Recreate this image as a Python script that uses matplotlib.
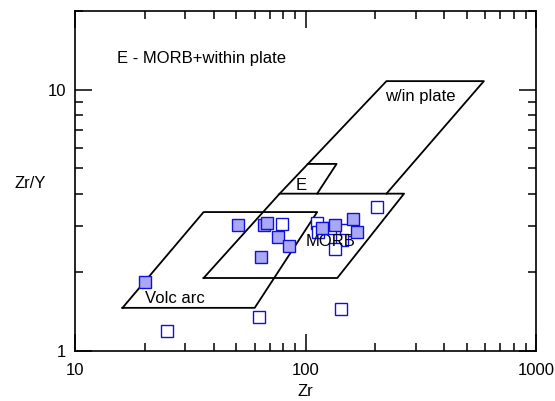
import matplotlib
matplotlib.use("Agg")
import matplotlib.pyplot as plt
from matplotlib.ticker import LogLocator, NullFormatter, FixedLocator, FixedFormatter

plt.rcParams['font.family'] = ['Liberation Sans', 'DejaVu Sans']

# discrimination field outlines (Zr, Zr/Y)
volc_arc_zr = [16, 36, 112, 60, 16]
volc_arc_zry = [1.46, 3.4, 3.4, 1.46, 1.46]
morb_zr = [36, 77, 267, 137, 36]
morb_zry = [1.9, 4.0, 4.0, 1.9, 1.9]
wip_zr = [77, 224, 593, 224]
wip_zry = [4.0, 10.8, 10.8, 4.0]
emorb_zr = [102, 136, 112]
emorb_zry = [5.2, 5.2, 4.0]

# samples
filled_zr = [20.0, 50.9, 65.8, 68.0, 75.9, 84.7, 63.8, 117.8, 134.2, 159.7, 167.2]
filled_zry = [1.83, 3.02, 3.02, 3.10, 2.72, 2.51, 2.29, 2.95, 3.02, 3.20, 2.86]
open_zr = [79.0, 112.3, 112.9, 127.2, 150.0, 143.0, 133.8, 203.0, 141.6, 62.8, 24.9]
open_zry = [3.05, 3.08, 2.86, 2.95, 2.89, 2.66, 2.45, 3.57, 1.45, 1.35, 1.19]

xticks = [10, 100, 1000]
xticklabels = ['10', '100', '1000']
yticks = [1, 10]
yticklabels = ['1', '10']

fig = plt.figure(figsize=(5.55, 4.01), dpi=100)
ax = fig.add_axes([0.136, 0.1254, 0.830, 0.8464])
ax.set_xscale('log')
ax.set_yscale('log')
ax.set_xlim(10, 1000)
ax.set_ylim(1, 20)

for xs, ys in [(volc_arc_zr, volc_arc_zry), (morb_zr, morb_zry),
               (wip_zr, wip_zry), (emorb_zr, emorb_zry)]:
    ax.plot(xs, ys, color='black', lw=1.3, zorder=2)

ax.plot(open_zr, open_zry, 's', ms=8, mfc='white', mec='#1010dd', mew=1.0,
        ls='none', zorder=3)
ax.plot(filled_zr, filled_zry, 's', ms=8, mfc='#a8a8f4', mec='#1010dd', mew=1.0,
        ls='none', zorder=4)

ax.text(0.090, 0.849, 'E - MORB+within plate', transform=ax.transAxes,
        fontsize=12, va='baseline', ha='left')
ax.text(220, 9.4, 'w/in plate', fontsize=12, va='center', ha='left')
ax.text(90, 4.3, 'E', fontsize=12, va='center', ha='left')
ax.text(100, 2.62, 'MORB', fontsize=12, va='center', ha='left')
ax.text(20.0, 1.58, 'Volc arc', fontsize=12, va='center', ha='left')

ax.xaxis.set_major_locator(FixedLocator(xticks))
ax.xaxis.set_major_formatter(FixedFormatter(xticklabels))
ax.yaxis.set_major_locator(FixedLocator(yticks))
ax.yaxis.set_major_formatter(FixedFormatter(yticklabels))
ax.xaxis.set_minor_locator(LogLocator(base=10, subs=range(2, 10)))
ax.yaxis.set_minor_locator(LogLocator(base=10, subs=range(2, 10)))
ax.xaxis.set_minor_formatter(NullFormatter())
ax.yaxis.set_minor_formatter(NullFormatter())

ax.tick_params(which='both', direction='in', top=True, right=True,
               labelsize=12, width=1.1)
ax.tick_params(which='major', length=12)
ax.tick_params(which='minor', length=5.5)
ax.tick_params(axis='x', which='major', pad=9)
ax.tick_params(axis='y', which='major', pad=7)
for s in ax.spines.values():
    s.set_linewidth(1.2)

fig.text(305 / 555, 1 - 392 / 401, 'Zr', fontsize=12, ha='center', va='center')
fig.text(30 / 555, 1 - 183 / 401, 'Zr/Y', fontsize=12, ha='center', va='center')

fig.savefig('out.png', dpi=100)
